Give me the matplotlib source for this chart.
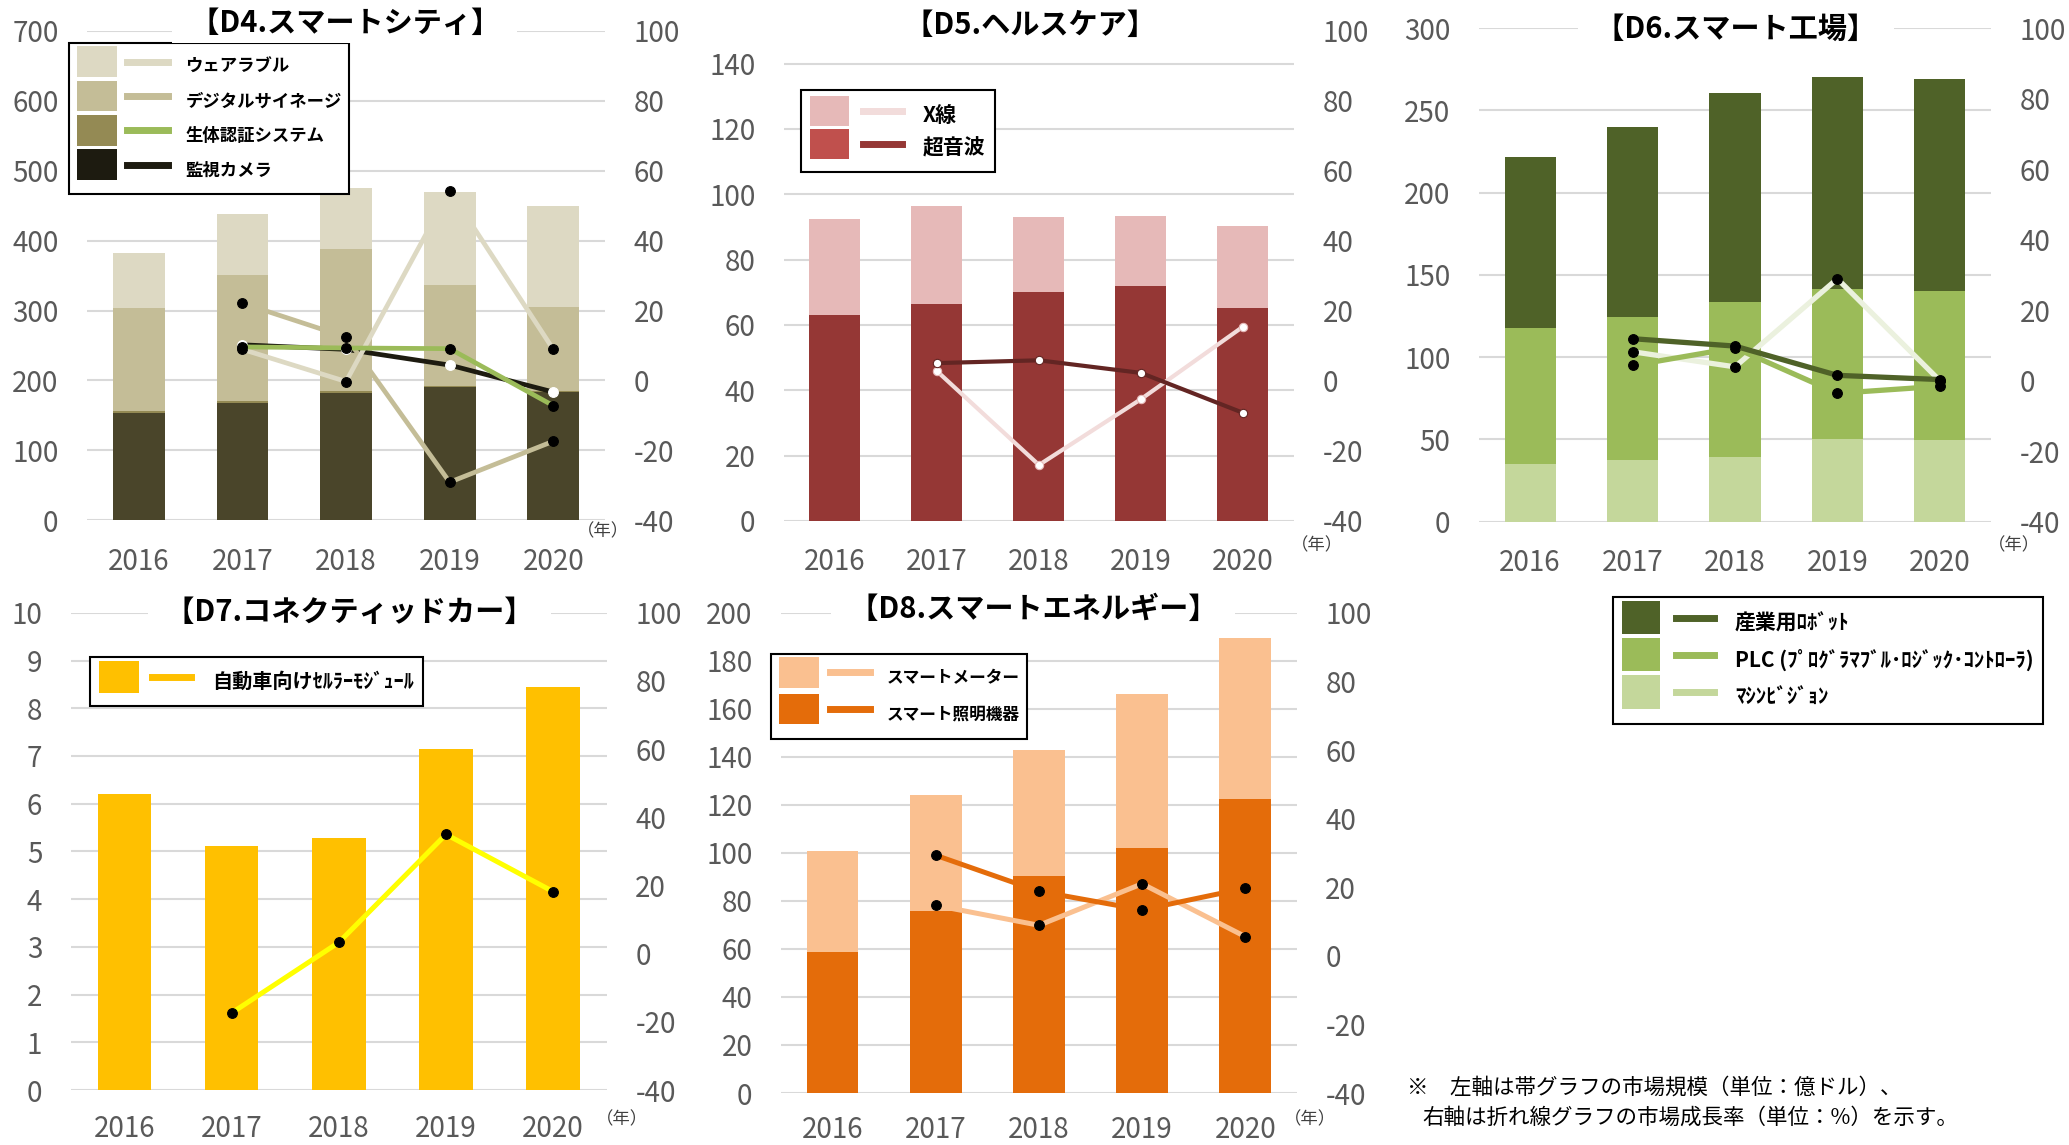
import matplotlib
matplotlib.use("Agg")
import matplotlib.pyplot as plt
import numpy as np
from matplotlib.patches import Patch, Rectangle
from matplotlib.lines import Line2D
from matplotlib.legend_handler import HandlerTuple, HandlerPatch

plt.rcParams['font.family'] = ['Noto Sans CJK JP', 'DejaVu Sans']
plt.rcParams['axes.unicode_minus'] = False

years = ['2016', '2017', '2018', '2019', '2020']

# D4 スマートシティ: market size (left axis), growth 2017-2020 (right axis)
d4_camera = [154, 168, 182, 190, 183]
d4_bio = [2, 2.5, 2.6, 2.5, 2.2]
d4_signage = [148, 180, 204, 144.5, 120]
d4_wearable = [78, 87, 86, 133, 144.5]
d4_growth_wearable = [8.9, -0.3, 54.3, 8.9]
d4_growth_signage = [22.1, 12.4, -29.1, -17.4]
d4_growth_bio = [9.6, 9.3, 9.1, -7.2]
d4_growth_camera = [10.2, 8.9, 4.4, -3.3]

# D5 ヘルスケア
d5_ultrasound = [63.1, 66.4, 70.2, 71.8, 65.2]
d5_xray = [29.2, 29.9, 22.8, 21.6, 25.0]
d5_growth_xray = [2.8, -24.0, -5.2, 15.5]
d5_growth_ultrasound = [5.1, 5.9, 2.3, -9.1]

# D6 スマート工場
d6_vision = [35.1, 37.5, 39.3, 50.1, 49.4]
d6_plc = [82.8, 86.6, 94.5, 91.2, 91.0]
d6_robot = [103.7, 115.9, 126.9, 128.9, 128.7]
d6_growth_robot = [11.9, 9.8, 1.5, 0.3]
d6_growth_plc = [4.3, 9.3, -3.6, -1.6]
d6_growth_vision = [8.2, 3.9, 28.9, 0.0]

# D7 コネクティッドカー
d7_module = [6.21, 5.12, 5.29, 7.14, 8.44]
d7_growth_module = [-17.4, 3.3, 35.0, 18.2]

# D8 スマートエネルギー
d8_lighting = [58.7, 76.0, 90.3, 102.2, 122.3]
d8_meter = [42.1, 48.2, 52.5, 63.9, 67.3]
d8_growth_lighting = [29.3, 18.8, 13.4, 19.7]
d8_growth_meter = [14.7, 8.9, 21.0, 5.6]

GRAY = '#595959'
x = np.arange(len(years))
xg = x[1:]

fig = plt.figure(figsize=(20.69, 11.45), dpi=100)


def make_axes(rect, left_lim, left_ticks, xpad=19):
    ax = fig.add_axes(rect)
    ax2 = ax.twinx()
    ax.set_xlim(-0.5, len(years) - 0.5)
    ax.set_ylim(*left_lim)
    ax.set_yticks(left_ticks)
    ax2.set_ylim(-40, 100)
    ax2.set_yticks(range(-40, 101, 20))
    ax.set_xticks(x)
    ax.set_xticklabels(years)
    ax.grid(axis='y', color='#d9d9d9', linewidth=1.5)
    ax.set_axisbelow(True)
    for a in (ax, ax2):
        for s in a.spines.values():
            s.set_visible(False)
    ax.tick_params(axis='y', length=0, pad=20.5, labelsize=20, labelcolor=GRAY)
    ax.tick_params(axis='x', length=0, pad=xpad, labelsize=20, labelcolor=GRAY)
    ax2.tick_params(axis='y', length=0, pad=20.5, labelsize=20, labelcolor=GRAY)
    return ax, ax2


def stacked(ax, series, colors):
    bottom = np.zeros(len(years))
    for vals, c in zip(series, colors):
        ax.bar(x, vals, 0.5, bottom=bottom, color=c, linewidth=0)
        bottom += np.array(vals)


def growth(ax2, vals, color, lw=3.4, mfc='black', mec='black', ms=7):
    ax2.plot(xg, vals, color=color, lw=lw, marker='o', ms=ms, mfc=mfc,
             mec=mec, mew=0.8, solid_joinstyle='round')


def tall_patch(ratio):
    def make(legend, orig_handle, xdescent, ydescent, width, height, fontsize):
        h = ratio * fontsize
        yc = (height - ydescent) / 2
        return Rectangle((-xdescent, yc - h / 2), width, h)
    return make


def legend(ax2, labels, patch_colors, line_colors, anchor, size, hl, hh, ls, ratio, pad):
    handles = [(Patch(facecolor=pc, edgecolor='none'), Line2D([], [], color=lc, lw=5))
               for pc, lc in zip(patch_colors, line_colors)]
    hmap = {tuple: HandlerTuple(ndivide=None, pad=pad),
            Patch: HandlerPatch(patch_func=tall_patch(ratio))}
    leg = ax2.legend(handles, labels, handler_map=hmap,
                     loc='upper left', bbox_to_anchor=anchor, bbox_transform=fig.transFigure,
                     prop={'size': size, 'weight': 'bold'}, handlelength=hl, handleheight=hh,
                     labelspacing=ls, handletextpad=1.0, borderpad=0.45, borderaxespad=0,
                     fancybox=False, framealpha=1, edgecolor='black')
    leg.get_frame().set_linewidth(1.5)


def title(xy, text):
    fig.text(xy[0], xy[1], '  ' + text + '  ', ha='center', va='center', fontsize=21,
             fontweight='bold', color='black',
             bbox=dict(boxstyle='square,pad=0.15', facecolor='white', edgecolor='none'))


def year_unit(xy):
    fig.text(xy[0], xy[1], '（年）', ha='center', va='center', fontsize=12.5, color='#404040')


# D4
ax, ax2 = make_axes([0.04205, 0.5456, 0.2504, 0.4274], (0, 700), range(0, 701, 100))
stacked(ax, [d4_camera, d4_bio, d4_signage, d4_wearable],
        ['#4a452a', '#948a54', '#c4bd97', '#ddd9c3'])
growth(ax2, d4_growth_camera, '#1d1b10', mfc='white', mec='white')
growth(ax2, d4_growth_signage, '#c4bd97')
growth(ax2, d4_growth_wearable, '#ddd9c3')
growth(ax2, d4_growth_bio, '#9bbb59')
legend(ax2, ['ウェアラブル', 'デジタルサイネージ', '生体認証システム', '監視カメラ'],
       ['#ddd9c3', '#c4bd97', '#948a54', '#1d1b10'],
       ['#ddd9c3', '#c4bd97', '#9bbb59', '#1d1b10'],
       (0.0334, 0.9622), 12.5, 5.24, 2.41, 0.17, 1.77, 0.58)
title((0.1667, 0.9797), '【D4.スマートシティ】')
year_unit((0.2914, 0.5358))

# D5
ax, ax2 = make_axes([0.3789, 0.545, 0.2465, 0.428], (0, 150), range(0, 141, 20))
stacked(ax, [d5_ultrasound, d5_xray], ['#953735', '#e6b9b8'])
growth(ax2, d5_growth_xray, '#f2dcdb', lw=3, mfc='white', mec='#e6b9b8', ms=6)
growth(ax2, d5_growth_ultrasound, '#632523', lw=3, mfc='white', mec='#632523', ms=6)
legend(ax2, ['X線', '超音波'], ['#e6b9b8', '#c0504d'], ['#f2dcdb', '#953735'],
       (0.387, 0.921), 15, 4.42, 1.85, 0.14, 1.44, 0.67)
title((0.498, 0.9778), '【D5.ヘルスケア】')
year_unit((0.6365, 0.5235))

# D6
ax, ax2 = make_axes([0.7148, 0.5445, 0.2475, 0.4308], (0, 300), range(0, 301, 50))
stacked(ax, [d6_vision, d6_plc, d6_robot], ['#c4d79b', '#9bbb59', '#4f6228'])
growth(ax2, d6_growth_vision, '#ebf1de', lw=3.8)
growth(ax2, d6_growth_plc, '#9bbb59', lw=3.8)
growth(ax2, d6_growth_robot, '#4f6228', lw=3.8)
legend(ax2, ['産業用ﾛﾎﾞｯﾄ', 'PLC (ﾌﾟﾛｸﾞﾗﾏﾌﾞﾙ･ﾛｼﾞｯｸ･ｺﾝﾄﾛｰﾗ)', 'ﾏｼﾝﾋﾞｼﾞｮﾝ'],
       ['#4f6228', '#9bbb59', '#c4d79b'], ['#4f6228', '#9bbb59', '#c4d79b'],
       (0.7795, 0.479), 15, 4.42, 2.15, 0.14, 1.59, 0.77)
title((0.8389, 0.9747), '【D6.スマート工場】')
year_unit((0.9733, 0.5235))

# D7
ax, ax2 = make_axes([0.0342, 0.048, 0.2591, 0.4168], (0, 10), range(0, 11, 1), xpad=17)
stacked(ax, [d7_module], ['#ffc000'])
growth(ax2, d7_growth_module, '#ffff00', lw=3.6)
legend(ax2, ['自動車向けｾﾙﾗｰﾓｼﾞｭｰﾙ'], ['#ffc000'], ['#ffc000'],
       (0.0434, 0.4264), 14.5, 4.6, 2.0, 0.2, 1.58, 0.65)
title((0.1689, 0.4655), '【D7.コネクティッドカー】')
year_unit((0.3006, 0.0225))

# D8
ax, ax2 = make_axes([0.3775, 0.0454, 0.2493, 0.4194], (0, 200), range(0, 201, 20), xpad=15.5)
stacked(ax, [d8_lighting, d8_meter], ['#e46c0a', '#fac090'])
growth(ax2, d8_growth_meter, '#fac090', lw=3.6)
growth(ax2, d8_growth_lighting, '#e46c0a', lw=3.6)
legend(ax2, ['スマートメーター', 'スマート照明機器'], ['#fac090', '#e46c0a'], ['#fac090', '#e46c0a'],
       (0.3727, 0.4288), 12, 5.5, 2.7, 0.19, 1.83, 0.66)
title((0.4992, 0.4686), '【D8.スマートエネルギー】')
year_unit((0.6333, 0.0225))

# footnote
fig.text(0.6798, 0.0498, '※　左軸は帯グラフの市場規模（単位：億ドル）、', ha='left', va='center',
         fontsize=15.5, color='black')
fig.text(0.6873, 0.024, '右軸は折れ線グラフの市場成長率（単位：%）を示す。', ha='left', va='center',
         fontsize=15.5, color='black')

fig.savefig('out.png', dpi=100)
